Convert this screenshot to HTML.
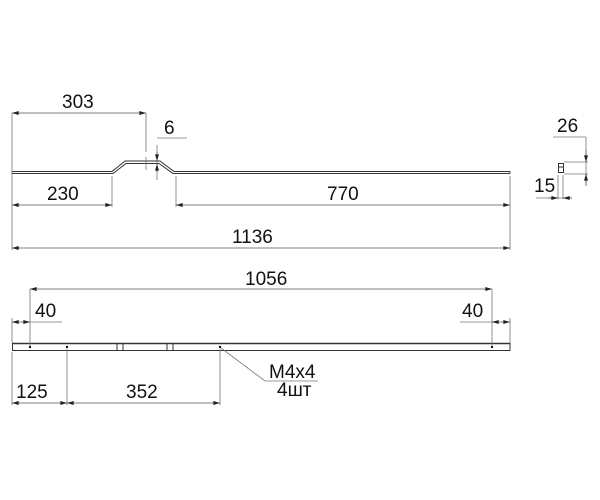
<!DOCTYPE html>
<html><head><meta charset="utf-8"><style>body{margin:0;background:#fff}svg{display:block}</style></head><body>
<svg width="600" height="500" viewBox="0 0 600 500" xmlns="http://www.w3.org/2000/svg">
<defs>
<marker id="a" viewBox="0 0 10 6" refX="10" refY="3" markerWidth="8" markerHeight="4" orient="auto-start-reverse" markerUnits="userSpaceOnUse"><path d="M0,0L10,3L0,6z" fill="#222"/></marker>
</defs>
<g font-family="Liberation Sans, sans-serif" font-size="19" fill="#111">
<path d="M12,171.5 H112 L125,161 H160 L174,171.5 H510" fill="none" stroke="#333" stroke-width="1"/>
<path d="M12,173.5 H113 L126,163.5 H159 L173,173.5 H510" fill="none" stroke="#333" stroke-width="1"/>
<line x1="12" y1="171.5" x2="12" y2="173.5" stroke="#333"/>
<line x1="510" y1="171.5" x2="510" y2="173.5" stroke="#333"/>
<g stroke="#777" stroke-width="0.8" fill="none">
<line x1="12" y1="113" x2="12" y2="250"/>
<line x1="146" y1="113" x2="146" y2="152"/><line x1="146" y1="157" x2="146" y2="170"/>
<line x1="112" y1="176" x2="112" y2="207"/>
<line x1="176" y1="176" x2="176" y2="207"/>
<line x1="510" y1="176" x2="510" y2="250"/>
<line x1="157" y1="138" x2="187" y2="138"/>
<line x1="157" y1="145" x2="157" y2="180"/>
</g>
<g stroke="#555" stroke-width="0.8" marker-start="url(#a)" marker-end="url(#a)">
<line x1="12" y1="113" x2="146" y2="113"/>
<line x1="12" y1="205" x2="112" y2="205"/>
<line x1="176" y1="205" x2="510" y2="205"/>
<line x1="12" y1="248" x2="510" y2="248"/>
</g>
<g stroke="#555" stroke-width="0.8"><line x1="157" y1="152" x2="157" y2="161" marker-end="url(#a)"/><line x1="157" y1="172" x2="157" y2="164" marker-end="url(#a)"/></g>
<text x="62" y="108">303</text>
<text x="164" y="134">6</text>
<text x="47" y="200">230</text>
<text x="327" y="200">770</text>
<text x="232" y="243">1136</text>
<rect x="558.5" y="163.5" width="5" height="9" fill="none" stroke="#333"/>
<line x1="558.5" y1="167" x2="563.5" y2="167" stroke="#333"/>
<g stroke="#777" stroke-width="0.8">
<line x1="553" y1="137" x2="586" y2="137"/><line x1="586" y1="137" x2="586" y2="186"/>
<line x1="564" y1="162" x2="588" y2="162"/><line x1="564" y1="174" x2="588" y2="174"/>
<line x1="558" y1="175" x2="558" y2="199"/><line x1="563" y1="175" x2="563" y2="199"/>
<line x1="536" y1="198" x2="572" y2="198"/>
</g>
<g stroke="#555" stroke-width="0.8"><line x1="586" y1="150" x2="586" y2="162" marker-end="url(#a)"/><line x1="586" y1="185" x2="586" y2="174" marker-end="url(#a)"/>
<line x1="548" y1="198" x2="558" y2="198" marker-end="url(#a)"/><line x1="572" y1="198" x2="563" y2="198" marker-end="url(#a)"/></g>
<text x="557" y="132">26</text>
<text x="534" y="192">15</text>
<rect x="12.5" y="343.5" width="497.5" height="7" fill="none" stroke="#333"/>
<line x1="12" y1="343.5" x2="510" y2="343.5" stroke="#333" stroke-width="1.6"/>
<g stroke="#333"><line x1="117" y1="344" x2="117" y2="351"/><line x1="123" y1="344" x2="123" y2="351"/><line x1="167" y1="344" x2="167" y2="351"/><line x1="173" y1="344" x2="173" y2="351"/></g>
<g fill="#111"><circle cx="30" cy="347" r="1.2"/><circle cx="67" cy="347" r="1.2"/><circle cx="220" cy="347" r="1.2"/><circle cx="492" cy="347" r="1.2"/></g>
<g stroke="#777" stroke-width="0.8">
<line x1="30" y1="289" x2="30" y2="346"/><line x1="492" y1="289" x2="492" y2="346"/>
<line x1="12" y1="318" x2="12" y2="343"/><line x1="510" y1="318" x2="510" y2="343"/>
<line x1="12" y1="352" x2="12" y2="405"/><line x1="67" y1="349" x2="67" y2="405"/><line x1="220" y1="349" x2="220" y2="405"/>
<line x1="30" y1="322" x2="62" y2="322"/><line x1="460" y1="322" x2="492" y2="322"/>
<polyline points="221,348 265,381 318,381" fill="none"/>
</g>
<g stroke="#555" stroke-width="0.8">
<line x1="30" y1="289" x2="492" y2="289" marker-start="url(#a)" marker-end="url(#a)"/>
<line x1="12" y1="322" x2="30" y2="322" marker-start="url(#a)" marker-end="url(#a)"/>
<line x1="492" y1="322" x2="510" y2="322" marker-start="url(#a)" marker-end="url(#a)"/>
<line x1="12" y1="403" x2="67" y2="403" marker-start="url(#a)" marker-end="url(#a)"/>
<line x1="67" y1="403" x2="220" y2="403" marker-start="url(#a)" marker-end="url(#a)"/>
</g>
<text x="245" y="285">1056</text>
<text x="35" y="317">40</text>
<text x="462" y="317">40</text>
<text x="16" y="398">125</text>
<text x="126" y="398">352</text>
<text x="269" y="378">M4x4</text>
<text x="277" y="396">4шт</text>
</g>
</svg>
</body></html>
